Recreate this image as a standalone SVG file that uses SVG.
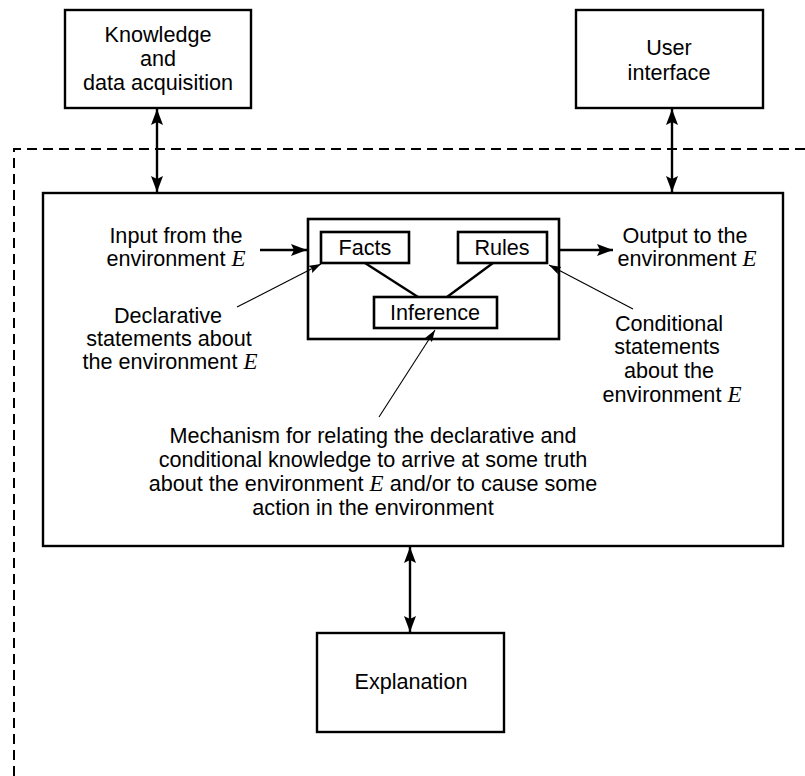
<svg xmlns="http://www.w3.org/2000/svg" width="805" height="776" viewBox="0 0 805 776">
<style>
.box{fill:#fff;stroke:#000;stroke-width:2.4}
.ibox{fill:#fff;stroke:#000;stroke-width:2.6}
.t{font-family:"Liberation Sans",Arial,sans-serif;font-size:21.6px;fill:#000;text-anchor:middle}
.e{font-family:"Liberation Serif","Times New Roman",serif;font-style:italic;font-size:23px}
.conn{stroke:#000;stroke-width:2.4;fill:none}
.ptr{stroke:#000;stroke-width:1.1;fill:none}
.dash{stroke:#000;stroke-width:2;fill:none;stroke-dasharray:10 6}
</style>
<defs>
<marker id="ah" markerUnits="userSpaceOnUse" markerWidth="17" markerHeight="12" refX="16" refY="6" orient="auto-start-reverse" viewBox="0 0 17 12">
<path d="M0,0 L16,6 L0,12 L3,6 Z" fill="#000"/>
</marker>
<marker id="as" markerUnits="userSpaceOnUse" markerWidth="13" markerHeight="9" refX="12" refY="4" orient="auto" viewBox="0 0 13 9">
<path d="M0,0 L12,4 L0,8 L2,4 Z" fill="#000"/>
</marker>
</defs>
<rect width="805" height="776" fill="#fff"/>
<g id="boundary">
<path class="dash" d="M14,776 L14,149 L805,149"/>
</g>
<g id="knowledge">
<rect class="box" x="65" y="10" width="186" height="98"/>
<text class="t" x="158" y="42">Knowledge</text>
<text class="t" x="158" y="66">and</text>
<text class="t" x="158" y="90">data acquisition</text>
</g>
<g id="user-interface">
<rect class="box" x="576" y="10" width="187" height="98"/>
<text class="t" x="669" y="55">User</text>
<text class="t" x="669" y="80">interface</text>
</g>
<g id="main">
<rect class="box" x="43" y="193" width="740" height="353"/>
</g>
<g id="core">
<rect class="ibox" x="308" y="219" width="251" height="120"/>
</g>
<g id="facts">
<rect class="ibox" x="321" y="232" width="88" height="31"/>
<text class="t" x="365" y="255">Facts</text>
</g>
<g id="rules">
<rect class="ibox" x="458" y="232" width="89" height="31"/>
<text class="t" x="502" y="255">Rules</text>
</g>
<g id="inference">
<rect class="ibox" x="374" y="297" width="123" height="31"/>
<text class="t" x="435" y="320">Inference</text>
</g>
<g id="explanation">
<rect class="box" x="317" y="633" width="187" height="99"/>
<text class="t" x="411" y="689">Explanation</text>
</g>
<g id="labels">
<text class="t" x="176" y="243">Input from the</text>
<text class="t" x="176" y="266">environment <tspan class="e">E</tspan></text>
<text class="t" x="685" y="243">Output to the</text>
<text class="t" x="687" y="266">environment <tspan class="e">E</tspan></text>
<text class="t" x="168" y="323">Declarative</text>
<text class="t" x="169" y="346">statements about</text>
<text class="t" x="170" y="369">the environment <tspan class="e">E</tspan></text>
<text class="t" x="669" y="331">Conditional</text>
<text class="t" x="667" y="354">statements</text>
<text class="t" x="669" y="378">about the</text>
<text class="t" x="672" y="402">environment <tspan class="e">E</tspan></text>
<text class="t" x="373" y="443">Mechanism for relating the declarative and</text>
<text class="t" x="373" y="467">conditional knowledge to arrive at some truth</text>
<text class="t" x="373" y="491">about the environment <tspan class="e">E</tspan> and/or to cause some</text>
<text class="t" x="373" y="515">action in the environment</text>
</g>
<g id="connectors">
<line class="conn" x1="157" y1="109" x2="157" y2="192" marker-start="url(#ah)" marker-end="url(#ah)"/>
<line class="conn" x1="672" y1="109" x2="672" y2="192" marker-start="url(#ah)" marker-end="url(#ah)"/>
<line class="conn" x1="410" y1="547" x2="410" y2="632" marker-start="url(#ah)" marker-end="url(#ah)"/>
<line class="conn" x1="260" y1="250" x2="307" y2="250" marker-end="url(#ah)"/>
<line class="conn" x1="559" y1="250" x2="613" y2="250" marker-end="url(#ah)"/>
<line class="conn" x1="365" y1="263" x2="418" y2="297"/>
<line class="conn" x1="493" y1="263" x2="447" y2="297"/>
<line class="ptr" x1="237" y1="307" x2="321" y2="264" marker-end="url(#as)"/>
<line class="ptr" x1="633" y1="309" x2="549" y2="265" marker-end="url(#as)"/>
<line class="ptr" x1="379" y1="417" x2="435" y2="330" marker-end="url(#as)"/>
</g>
</svg>
